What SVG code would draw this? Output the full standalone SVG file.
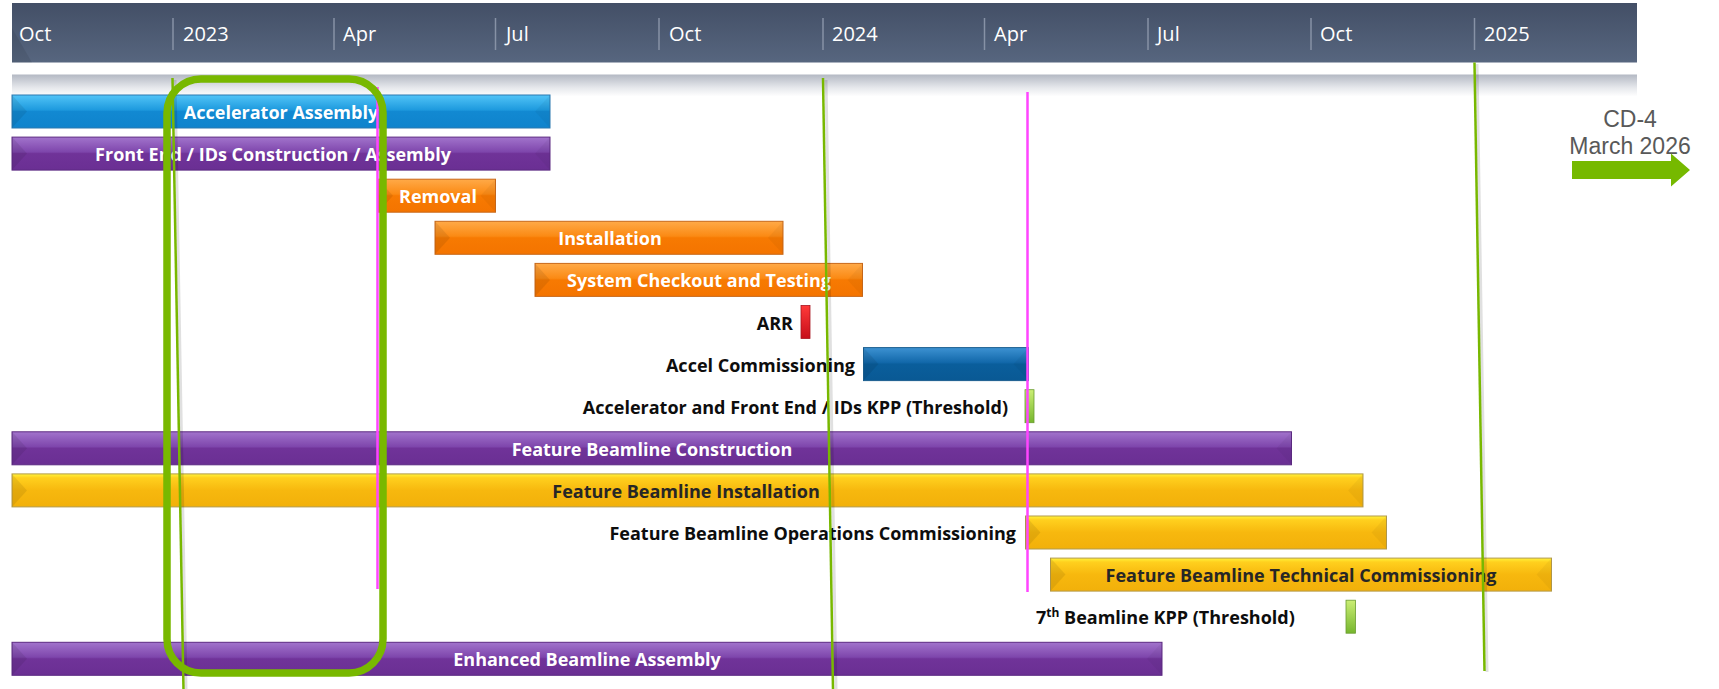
<svg xmlns="http://www.w3.org/2000/svg" width="1719" height="689" viewBox="0 0 1719 689">
<defs>
<linearGradient id="gHead" x1="0" y1="0" x2="0" y2="1"><stop offset="0" stop-color="#434f66"/><stop offset="1" stop-color="#57667f"/></linearGradient>
<linearGradient id="gBand" x1="0" y1="0" x2="0" y2="1"><stop offset="0" stop-color="#b3b8c3"/><stop offset="0.6" stop-color="#e6e8ec"/><stop offset="1" stop-color="#ffffff"/></linearGradient>
<linearGradient id="gBlue" x1="0" y1="0" x2="0" y2="1"><stop offset="0" stop-color="#52c4f7"/><stop offset="0.45" stop-color="#1e9ade"/><stop offset="0.5" stop-color="#1289d2"/><stop offset="1" stop-color="#0f83cc"/></linearGradient>
<linearGradient id="gPurple" x1="0" y1="0" x2="0" y2="1"><stop offset="0" stop-color="#a274cc"/><stop offset="0.45" stop-color="#7e46ac"/><stop offset="0.5" stop-color="#703399"/><stop offset="1" stop-color="#6a2f93"/></linearGradient>
<linearGradient id="gOrange" x1="0" y1="0" x2="0" y2="1"><stop offset="0" stop-color="#ffaa48"/><stop offset="0.45" stop-color="#fb8a14"/><stop offset="0.5" stop-color="#f77a02"/><stop offset="1" stop-color="#f47400"/></linearGradient>
<linearGradient id="gYellow" x1="0" y1="0" x2="0" y2="1"><stop offset="0" stop-color="#fff43c"/><stop offset="0.12" stop-color="#ffd01e"/><stop offset="0.5" stop-color="#f7b80e"/><stop offset="1" stop-color="#f2b00a"/></linearGradient>
<linearGradient id="gDark" x1="0" y1="0" x2="0" y2="1"><stop offset="0" stop-color="#3d92d2"/><stop offset="0.45" stop-color="#1268aa"/><stop offset="0.5" stop-color="#0a5e9c"/><stop offset="1" stop-color="#095994"/></linearGradient>
<linearGradient id="gRed" x1="0" y1="0" x2="0" y2="1"><stop offset="0" stop-color="#ff3a3a"/><stop offset="1" stop-color="#c60e1a"/></linearGradient>
<linearGradient id="gGreen" x1="0" y1="0" x2="0" y2="1"><stop offset="0" stop-color="#cbee74"/><stop offset="1" stop-color="#76b62e"/></linearGradient>
</defs>
<style>
.hd{font-family:"Open Sans","Liberation Sans",sans-serif;font-size:20px;fill:#ffffff}
.sep{stroke:#8792a6;stroke-width:1.5}
.bl{font-family:"Open Sans","Liberation Sans",sans-serif;font-size:18px;font-weight:700;fill:#ffffff;text-anchor:middle}
.dk{fill:#262626}
.lb{font-family:"Open Sans","Liberation Sans",sans-serif;font-size:18px;font-weight:700;fill:#0d0d0d;text-anchor:end}
.blue{fill:url(#gBlue);stroke:#2a78b0;stroke-width:1}
.purple{fill:url(#gPurple);stroke:#5c2a82;stroke-width:1}
.orange{fill:url(#gOrange);stroke:#c9691a;stroke-width:1}
.yellow{fill:url(#gYellow);stroke:#b39a4a;stroke-width:1}
.dark{fill:url(#gDark);stroke:#1c5f90;stroke-width:1}
.red{fill:url(#gRed);stroke:#a81420;stroke-width:0.8}
.grn{fill:url(#gGreen);stroke:#6a9c30;stroke-width:0.8}
.bvL{fill:#000000;opacity:0.08}
.bvR{fill:#000000;opacity:0.04}
.vg{stroke:#78b800;stroke-width:2.5;fill:none}
.vm{stroke:#ff45ff;stroke-width:2.5;fill:none}
.sh{stroke:#000000;stroke-opacity:0.12;stroke-width:3;fill:none}
.cd{font-family:"Liberation Sans",Arial,sans-serif;font-size:23px;fill:#595959;text-anchor:middle}
</style>
<rect width="1719" height="689" fill="#ffffff"/>

<g id="timescale">
<rect x="12" y="3" width="1625" height="59.5" fill="url(#gHead)"/>
<polygon points="12,28 32,62.5 12,62.5" fill="#000000" opacity="0.08"/>
<line class="sep" x1="173" y1="18" x2="173" y2="50"/>
<line class="sep" x1="334" y1="18" x2="334" y2="50"/>
<line class="sep" x1="495.5" y1="18" x2="495.5" y2="50"/>
<line class="sep" x1="659" y1="18" x2="659" y2="50"/>
<line class="sep" x1="823" y1="18" x2="823" y2="50"/>
<line class="sep" x1="984.5" y1="18" x2="984.5" y2="50"/>
<line class="sep" x1="1148" y1="18" x2="1148" y2="50"/>
<line class="sep" x1="1311" y1="18" x2="1311" y2="50"/>
<line class="sep" x1="1474.5" y1="18" x2="1474.5" y2="50"/>
<text class="hd" x="19" y="41">Oct</text>
<text class="hd" x="183" y="41">2023</text>
<text class="hd" x="343" y="41">Apr</text>
<text class="hd" x="506" y="41">Jul</text>
<text class="hd" x="669" y="41">Oct</text>
<text class="hd" x="832" y="41">2024</text>
<text class="hd" x="994" y="41">Apr</text>
<text class="hd" x="1157" y="41">Jul</text>
<text class="hd" x="1320" y="41">Oct</text>
<text class="hd" x="1484" y="41">2025</text>
<rect x="12" y="74.5" width="1625" height="22" fill="url(#gBand)"/>
</g>

<g id="accelerator-assembly">
<rect class="blue" x="12" y="95" width="538" height="33"/>
<polygon class="bvL" points="12,95 27,111.5 12,128"/>
<polygon class="bvR" points="550,95 535,111.5 550,128"/>
<text class="bl" x="281" y="119">Accelerator Assembly</text>
</g>

<g id="front-end-ids">
<rect class="purple" x="12" y="137.1" width="538" height="33"/>
<polygon class="bvL" points="12,137.1 27,153.6 12,170.1"/>
<polygon class="bvR" points="550,137.1 535,153.6 550,170.1"/>
<text class="bl" x="273" y="161">Front End / IDs Construction / Assembly</text>
</g>

<g id="removal">
<rect class="orange" x="378" y="179.2" width="117.5" height="33"/>
<polygon class="bvL" points="378,179.2 393,195.7 378,212.2"/>
<polygon class="bvR" points="495.5,179.2 480.5,195.7 495.5,212.2"/>
<text class="bl" x="438" y="203">Removal</text>
</g>

<g id="installation">
<rect class="orange" x="435" y="221.3" width="348" height="33"/>
<polygon class="bvL" points="435,221.3 450,237.8 435,254.3"/>
<polygon class="bvR" points="783,221.3 768,237.8 783,254.3"/>
<text class="bl" x="610" y="245">Installation</text>
</g>

<g id="system-checkout">
<rect class="orange" x="535" y="263.4" width="327.5" height="33"/>
<polygon class="bvL" points="535,263.4 550,279.9 535,296.4"/>
<polygon class="bvR" points="862.5,263.4 847.5,279.9 862.5,296.4"/>
<text class="bl" x="699" y="287">System Checkout and Testing</text>
</g>

<g id="arr">
<rect class="red" x="801" y="305.5" width="9" height="33"/>
<text class="lb" x="793" y="330">ARR</text>
</g>

<g id="accel-commissioning">
<rect class="dark" x="863.5" y="347.6" width="165" height="33"/>
<polygon class="bvL" points="863.5,347.6 878.5,364.1 863.5,380.6"/>
<polygon class="bvR" points="1028.5,347.6 1013.5,364.1 1028.5,380.6"/>
<text class="lb" x="855" y="372">Accel Commissioning</text>
</g>

<g id="accel-kpp">
<rect class="grn" x="1025" y="389.7" width="9" height="33"/>
<text class="lb" x="1008" y="414">Accelerator and Front End / IDs KPP (Threshold)</text>
</g>

<g id="feature-construction">
<rect class="purple" x="12" y="431.8" width="1279.5" height="33"/>
<polygon class="bvL" points="12,431.8 27,448.3 12,464.8"/>
<polygon class="bvR" points="1291.5,431.8 1276.5,448.3 1291.5,464.8"/>
<text class="bl" x="652" y="456">Feature Beamline Construction</text>
</g>

<g id="feature-installation">
<rect class="yellow" x="12" y="473.9" width="1351" height="33"/>
<polygon class="bvL" points="12,473.9 27,490.4 12,506.9"/>
<polygon class="bvR" points="1363,473.9 1348,490.4 1363,506.9"/>
<text class="bl dk" x="686" y="498">Feature Beamline Installation</text>
</g>

<g id="feature-ops-commissioning">
<rect class="yellow" x="1025.5" y="516" width="361" height="33"/>
<polygon class="bvL" points="1025.5,516 1040.5,532.5 1025.5,549"/>
<polygon class="bvR" points="1386.5,516 1371.5,532.5 1386.5,549"/>
<text class="lb" x="1016" y="540">Feature Beamline Operations Commissioning</text>
</g>

<g id="feature-tech-commissioning">
<rect class="yellow" x="1050.5" y="558.1" width="501" height="33"/>
<polygon class="bvL" points="1050.5,558.1 1065.5,574.6 1050.5,591.1"/>
<polygon class="bvR" points="1551.5,558.1 1536.5,574.6 1551.5,591.1"/>
<text class="bl dk" x="1301" y="582">Feature Beamline Technical Commissioning</text>
</g>

<g id="seventh-kpp">
<rect class="grn" x="1346" y="600.2" width="9.5" height="33"/>
<text class="lb" x="1036" y="624" style="text-anchor:start">7<tspan dy="-7" font-size="12">th</tspan><tspan dy="7"> Beamline KPP (Threshold)</tspan></text>
</g>

<g id="enhanced-assembly">
<rect class="purple" x="12" y="642.3" width="1150" height="33"/>
<polygon class="bvL" points="12,642.3 27,658.8 12,675.3"/>
<polygon class="bvR" points="1162,642.3 1147,658.8 1162,675.3"/>
<text class="bl" x="587" y="666">Enhanced Beamline Assembly</text>
</g>

<g id="markers">
<line class="sh" x1="175" y1="80" x2="186" y2="689"/>
<line class="vg" x1="172.5" y1="78" x2="183.5" y2="689"/>
<line class="sh" x1="826" y1="80" x2="836" y2="689"/>
<line class="vg" x1="823" y1="78" x2="833" y2="689"/>
<line class="sh" x1="1477" y1="64" x2="1487" y2="672"/>
<line class="vg" x1="1474.5" y1="62.5" x2="1484.5" y2="671"/>
<line class="vm" x1="377.5" y1="87" x2="377.5" y2="589"/>
<line class="vm" x1="1027.5" y1="92" x2="1027.5" y2="592"/>
<rect x="167" y="79" width="216" height="594" rx="34" ry="34" fill="none" stroke="#78b800" stroke-width="7.5"/>
</g>

<g id="cd4">
<text class="cd" x="1630" y="127">CD-4</text>
<text class="cd" x="1630" y="154">March 2026</text>
<polygon points="1572,161 1671,161 1671,153.5 1690,170 1671,186.5 1671,179 1572,179" fill="#76b900"/>
</g>
</svg>
